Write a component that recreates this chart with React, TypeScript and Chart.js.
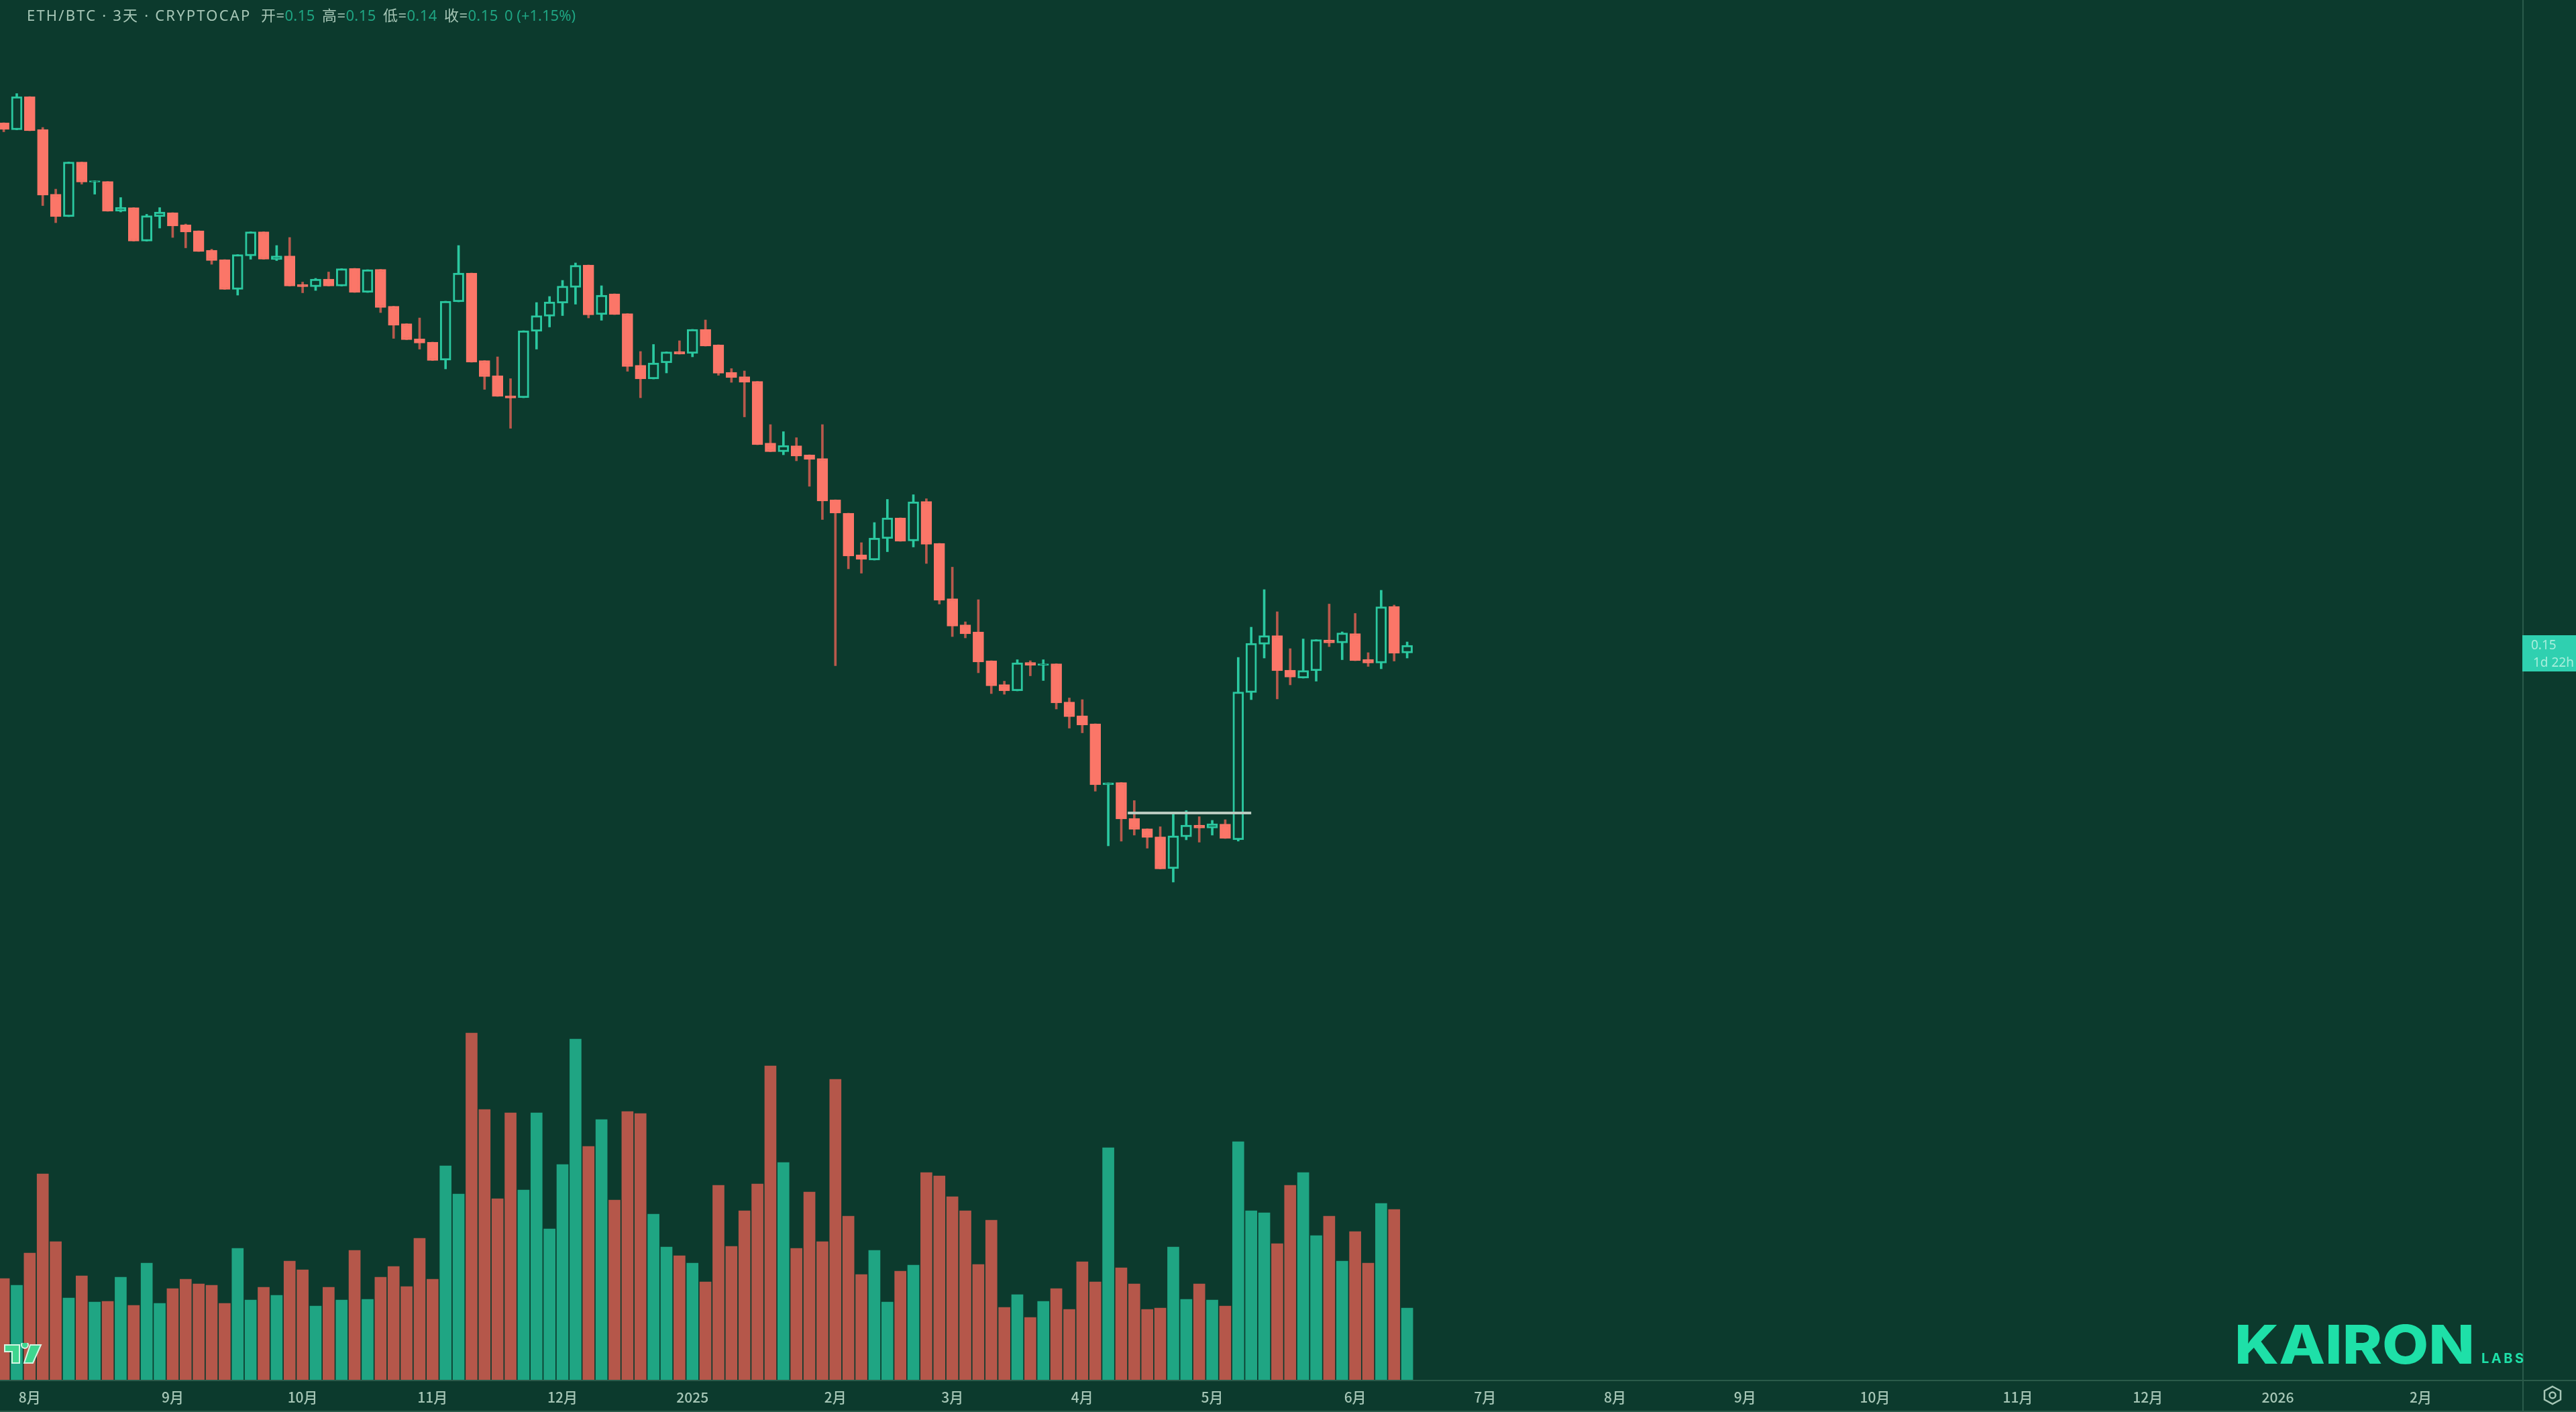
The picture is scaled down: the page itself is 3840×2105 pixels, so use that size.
import React, { useEffect, useRef } from "react";
import { Chart, registerables, Plugin } from "chart.js";

Chart.register(...registerables);

// ETH/BTC 3-day candles (prices x 10000)
const opens = [
  3074, 3053, 3152, 3054, 2861, 2794, 2957, 2897, 2899, 2810, 2821, 2721, 2794, 2806, 2770, 2752, 2694, 2666, 2577, 2677,
  2749, 2666, 2677, 2592, 2585, 2608, 2587, 2640, 2568, 2637, 2527, 2475, 2430, 2420, 2366, 2540, 2626, 2365, 2320, 2260,
  2254, 2452, 2497, 2536, 2583, 2650, 2502, 2564, 2505, 2351, 2310, 2358, 2392, 2386, 2458, 2412, 2330, 2317, 2303, 2119,
  2093, 2111, 2084, 2073, 1950, 1910, 1786, 1770, 1834, 1896, 1827, 1945, 1820, 1655, 1577, 1556, 1470, 1399, 1380, 1465,
  1456, 1461, 1347, 1306, 1282, 1100, 1107, 1000, 969, 945, 850, 945, 980, 971, 983, 936, 1375, 1519, 1545, 1442,
  1418, 1440, 1532, 1523, 1551, 1474, 1463, 1632, 1493,
];
const highs = [
  3074, 3161, 3152, 3060, 2876, 2957, 2957, 2901, 2899, 2851, 2821, 2801, 2821, 2806, 2772, 2752, 2697, 2666, 2681, 2749,
  2749, 2708, 2732, 2599, 2610, 2629, 2639, 2640, 2636, 2637, 2527, 2475, 2492, 2420, 2542, 2708, 2626, 2365, 2376, 2311,
  2454, 2538, 2556, 2604, 2656, 2650, 2588, 2564, 2505, 2392, 2413, 2391, 2424, 2458, 2486, 2412, 2341, 2334, 2303, 2174,
  2153, 2135, 2084, 2174, 1950, 1910, 1822, 1882, 1951, 1896, 1965, 1953, 1820, 1749, 1586, 1652, 1470, 1409, 1473, 1470,
  1473, 1461, 1359, 1354, 1282, 1106, 1107, 1053, 969, 975, 1016, 1023, 1005, 994, 996, 1480, 1570, 1682, 1616, 1506,
  1535, 1533, 1639, 1556, 1611, 1494, 1680, 1636, 1526,
];
const lows = [
  3047, 3053, 3050, 2827, 2776, 2794, 2891, 2861, 2810, 2808, 2721, 2721, 2760, 2732, 2701, 2690, 2652, 2577, 2560, 2667,
  2667, 2663, 2587, 2567, 2574, 2587, 2587, 2568, 2568, 2508, 2431, 2427, 2399, 2365, 2340, 2540, 2360, 2279, 2258, 2163,
  2254, 2399, 2465, 2499, 2533, 2492, 2485, 2502, 2333, 2254, 2310, 2328, 2384, 2376, 2408, 2321, 2300, 2197, 2114, 2093,
  2084, 2066, 1990, 1891, 1455, 1744, 1731, 1770, 1795, 1826, 1809, 1760, 1639, 1542, 1538, 1434, 1372, 1370, 1380, 1425,
  1411, 1326, 1269, 1255, 1081, 918, 932, 950, 911, 849, 810, 936, 929, 950, 940, 932, 1354, 1478, 1356, 1398,
  1418, 1409, 1512, 1473, 1470, 1453, 1446, 1469, 1478,
];
const closes = [
  3054, 3152, 3050, 2858, 2794, 2957, 2897, 2901, 2810, 2822, 2721, 2797, 2808, 2766, 2748, 2690, 2663, 2577, 2681, 2749,
  2667, 2677, 2587, 2585, 2608, 2587, 2639, 2568, 2636, 2523, 2470, 2427, 2417, 2365, 2542, 2626, 2360, 2317, 2258, 2253,
  2454, 2499, 2540, 2587, 2649, 2501, 2560, 2502, 2347, 2310, 2358, 2391, 2384, 2458, 2408, 2327, 2314, 2300, 2114, 2093,
  2112, 2080, 2070, 1946, 1910, 1782, 1772, 1836, 1896, 1826, 1944, 1817, 1650, 1573, 1550, 1466, 1395, 1380, 1464, 1456,
  1461, 1344, 1303, 1278, 1100, 1106, 998, 967, 943, 849, 948, 980, 971, 984, 940, 1377, 1522, 1545, 1440, 1421,
  1441, 1533, 1523, 1553, 1470, 1463, 1631, 1492, 1516,
];
const volumes = [
  151, 141, 189, 307, 206, 122, 155, 116, 117, 153, 111, 174, 114, 136, 150, 143, 141, 114, 196, 119,
  138, 126, 177, 164, 110, 138, 119, 193, 120, 153, 169, 139, 211, 150, 319, 277, 517, 403, 270, 398,
  283, 398, 225, 321, 508, 348, 388, 268, 400, 397, 247, 198, 185, 174, 146, 290, 199, 252, 292, 468,
  324, 196, 280, 206, 448, 244, 157, 193, 116, 162, 171, 309, 304, 273, 252, 172, 238, 108, 127, 93,
  117, 136, 105, 176, 146, 346, 167, 143, 105, 107, 198, 120, 143, 119, 110, 355, 252, 249, 203, 290,
  309, 215, 244, 177, 221, 174, 263, 254, 107,
];

// month labels sit on the bar index where the month starts; the axis runs on past the last bar
const tickBars = [2, 13, 23, 33, 43, 53, 64, 73, 83, 93, 104, 114, 124, 134, 144, 155, 165, 175, 186];
const tickLabels = ["8月", "9月", "10月", "11月", "12月", "2025", "2月", "3月", "4月", "5月", "6月", "7月", "8月", "9月", "10月", "11月", "12月", "2026", "2月"];

const levelBars = [86.5, 96];
const levelPrice = 0.1016;

const BG = "#0c3a2d";
const UP = "#2bc8a0";
const DOWN = "#fb7668";
const DOWN_WICK = "#b9594c";
const VOL_UP = "#1fa583";
const VOL_DOWN = "#b5574a";
const LINE = "#2a5a4a";
const TEXT = "#a6c6b6";

const isUp = (i: number) => closes[i] >= opens[i];
const price = (v: number) => v / 10000;

const frame: Plugin<"bar"> = {
  id: "frame",
  afterDraw(chart) {
    const { ctx, chartArea, scales, width, height } = chart;
    ctx.save();
    ctx.fillStyle = LINE;
    ctx.fillRect(chartArea.right, 0, 2, height);
    ctx.fillRect(0, chartArea.bottom, width, 2);
    ctx.fillRect(0, height - 2, width, 2);
    // last price tag on the axis
    const y = scales.y.getPixelForValue(price(closes[closes.length - 1]));
    ctx.fillStyle = "#2fd0b0";
    ctx.fillRect(chartArea.right, y - 15, 80, 54);
    ctx.fillStyle = "#a8efdc";
    ctx.font = '19px "Noto Sans"';
    ctx.textBaseline = "middle";
    ctx.fillText("0.15", chartArea.right + 13, y + 1);
    ctx.fillText("1d 22h", chartArea.right + 16, y + 27);
    ctx.restore();
  },
};

export default function App() {
  const canvasRef = useRef<HTMLCanvasElement>(null);

  useEffect(() => {
    if (!canvasRef.current) return;
    const bars = closes.map((_, i) => i);

    const chart = new Chart(canvasRef.current, {
      type: "bar",
      data: {
        datasets: [
          {
            label: "量",
            yAxisID: "vol",
            order: 4,
            grouped: false,
            barThickness: 17,
            data: bars.map((i) => ({ x: i, y: volumes[i] })),
            backgroundColor: bars.map((i) => (isUp(i) ? VOL_UP : VOL_DOWN)),
          },
          {
            label: "wick",
            yAxisID: "y",
            order: 3,
            grouped: false,
            barThickness: 3,
            data: bars.map((i) => ({ x: i, y: [price(lows[i]), price(highs[i])] })),
            backgroundColor: bars.map((i) => (isUp(i) ? UP : DOWN_WICK)),
          },
          {
            label: "ETH/BTC",
            yAxisID: "y",
            order: 2,
            grouped: false,
            barThickness: 16,
            borderSkipped: false,
            data: bars.map((i) => ({ x: i, y: [price(opens[i]), price(closes[i])] })),
            backgroundColor: bars.map((i) => (isUp(i) ? BG : DOWN)),
            borderColor: bars.map((i) => (isUp(i) ? UP : DOWN)),
            borderWidth: 3,
          },
          {
            type: "line",
            label: "level",
            yAxisID: "y",
            order: 1,
            data: levelBars.map((x) => ({ x, y: levelPrice })),
            borderColor: "#b9c9bf",
            borderWidth: 4,
            pointRadius: 0,
          },
        ] as any,
      },
      options: {
        responsive: false,
        animation: false,
        devicePixelRatio: 1,
        layout: { padding: 0 },
        plugins: { legend: { display: false }, tooltip: { enabled: false } },
        scales: {
          x: {
            type: "linear",
            offset: false,
            min: -0.289,
            max: 193.82,
            grid: { display: false },
            border: { display: false },
            afterBuildTicks: (axis) => {
              axis.ticks = tickBars.map((value) => ({ value }));
            },
            afterFit: (axis) => {
              axis.height = 48;
            },
            ticks: {
              autoSkip: false,
              maxRotation: 0,
              padding: 5,
              color: TEXT,
              font: { family: '"Noto Sans CJK SC", "Noto Sans"', size: 21, weight: 500 },
              callback: (value) => tickLabels[tickBars.indexOf(Number(value))],
            },
          },
          y: {
            position: "right",
            min: -0.0674,
            max: 0.344,
            grid: { display: false },
            border: { display: false },
            ticks: { display: false },
            afterFit: (axis) => {
              axis.width = 80;
            },
          },
          vol: {
            display: false,
            min: 0,
            max: 2057,
          },
        },
      },
      plugins: [frame as any],
    });

    return () => chart.destroy();
  }, []);

  const head: React.CSSProperties = { position: "absolute", top: 6, whiteSpace: "nowrap", letterSpacing: 0.4 };

  return (
    <div
      style={{
        position: "absolute",
        left: 0,
        top: 0,
        width: 3840,
        height: 2105,
        overflow: "hidden",
        background: BG,
        fontFamily: '"Noto Sans", "Noto Sans CJK SC", sans-serif',
        fontSize: 22,
        lineHeight: "32px",
      }}
    >
      <canvas ref={canvasRef} width={3840} height={2105} style={{ display: "block" }} />

      <div style={{ ...head, left: 40, color: TEXT, letterSpacing: 2.2 }}>ETH/BTC · 3天 · CRYPTOCAP</div>
      <div style={{ ...head, left: 389, color: TEXT }}>
        开=<span style={{ color: VOL_UP }}>0.15</span>
      </div>
      <div style={{ ...head, left: 480, color: TEXT }}>
        高=<span style={{ color: VOL_UP }}>0.15</span>
      </div>
      <div style={{ ...head, left: 571, color: TEXT }}>
        低=<span style={{ color: VOL_UP }}>0.14</span>
      </div>
      <div style={{ ...head, left: 662, color: TEXT }}>
        收=<span style={{ color: VOL_UP }}>0.15</span>
      </div>
      <div style={{ ...head, left: 752, color: VOL_UP, letterSpacing: 0 }}>0 (+1.15%)</div>

      {/* TradingView mark */}
      <svg style={{ position: "absolute", left: 5, top: 2002 }} width={58} height={33} viewBox="0 0 58 33">
        <path
          d="M2 3 H24 V30 H13 V13 H2 Z M27 3 A5 5 0 1 1 37 3 A5 5 0 1 1 27 3 Z M40 3 H56 L44 30 H31 Z"
          fill="#3fd68f"
          stroke="#d5f5e3"
          strokeWidth={2}
        />
      </svg>

      <div
        style={{
          position: "absolute",
          left: 3331,
          top: 1951,
          fontFamily: "Inter",
          fontWeight: 800,
          fontSize: 80,
          lineHeight: "106px",
          color: "#1ee0a8",
          transformOrigin: "0 0",
          transform: "scaleX(1.12)",
        }}
      >
        KAIRON
      </div>
      <div
        style={{
          position: "absolute",
          left: 3699,
          top: 2011,
          fontFamily: "Inter",
          fontWeight: 700,
          fontSize: 20,
          lineHeight: "28px",
          letterSpacing: 3.5,
          color: "#1ee0a8",
        }}
      >
        LABS
      </div>

      {/* settings icon */}
      <svg style={{ position: "absolute", left: 3790, top: 2065 }} width={30} height={30} viewBox="0 0 30 30" fill="none" stroke={TEXT} strokeWidth={2.5}>
        <path d="M15 2 L27 8.5 V21.5 L15 28 L3 21.5 V8.5 Z" />
        <circle cx={15} cy={15} r={4.5} />
      </svg>
    </div>
  );
}
